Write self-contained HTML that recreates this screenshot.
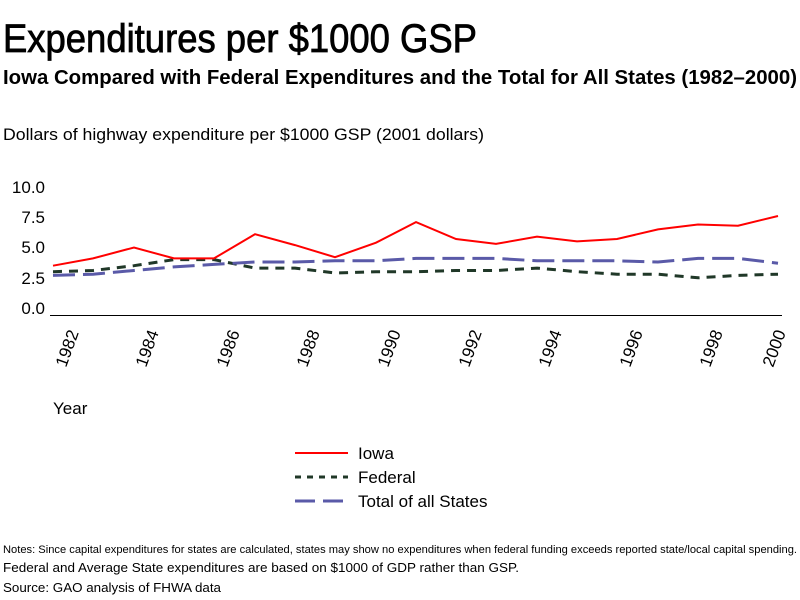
<!DOCTYPE html><html><head><style>body{margin:0;background:#fff}svg{display:block}text{font-family:"Liberation Sans",sans-serif}</style></head><body>
<svg width="800" height="600" xmlns="http://www.w3.org/2000/svg">
<text x="3" y="52" font-size="40" stroke="#000" stroke-width="0.8" textLength="474" lengthAdjust="spacingAndGlyphs">Expenditures per $1000 GSP</text>
<text x="3" y="84" font-size="20" font-weight="bold" textLength="794" lengthAdjust="spacingAndGlyphs">Iowa Compared with Federal Expenditures and the Total for All States (1982–2000)</text>
<text x="3" y="140" font-size="17" textLength="481" lengthAdjust="spacingAndGlyphs">Dollars of highway expenditure per $1000 GSP (2001 dollars)</text>
<g font-size="17" text-anchor="end">
<text x="45" y="193">10.0</text><text x="45" y="223">7.5</text><text x="45" y="253">5.0</text><text x="45" y="284">2.5</text><text x="45" y="314">0.0</text></g>
<line x1="50" y1="315.5" x2="782" y2="315.5" stroke="#000" stroke-width="1"/>
<polyline fill="none" stroke="#203828" stroke-width="3" stroke-dasharray="9,7" points="53,271.7 93,270.5 134,265.7 174,259.6 214,259.6 255,268.1 295,268.1 335,273 376,271.7 416,271.7 456,270.5 496,270.5 537,268.1 577,271.7 617,274.2 658,274.2 698,277.8 738,275.4 778,274.2"/>
<polyline fill="none" stroke="#5a5aa8" stroke-width="3" stroke-dasharray="22,8" points="53,275.4 93,274.2 134,270.5 174,266.9 214,264.4 255,262 295,262 335,260.8 376,260.8 416,258.4 456,258.4 496,258.4 537,260.8 577,260.8 617,260.8 658,262 698,258.4 738,258.4 778,263.2"/>
<polyline fill="none" stroke="#f00" stroke-width="2" points="53,265.7 93,258.4 134,247.5 174,258.4 214,258.4 255,234.2 295,245.1 335,257.2 376,242.7 416,222.1 456,239 496,243.9 537,236.6 577,241.4 617,239 658,229.4 698,224.5 738,225.7 778,216"/>
<g font-size="17">
<text transform="translate(66,368) rotate(-70)">1982</text>
<text transform="translate(146,368) rotate(-70)">1984</text>
<text transform="translate(227,368) rotate(-70)">1986</text>
<text transform="translate(307,368) rotate(-70)">1988</text>
<text transform="translate(388,368) rotate(-70)">1990</text>
<text transform="translate(469,368) rotate(-70)">1992</text>
<text transform="translate(549,368) rotate(-70)">1994</text>
<text transform="translate(630,368) rotate(-70)">1996</text>
<text transform="translate(710,368) rotate(-70)">1998</text>
<text transform="translate(773,368) rotate(-70)">2000</text>
<text x="53" y="414">Year</text>
<text x="358" y="459">Iowa</text><text x="358" y="483">Federal</text><text x="358" y="507">Total of all States</text>
</g>
<line x1="295" y1="453" x2="348" y2="453" stroke="#f00" stroke-width="2"/>
<line x1="295" y1="477" x2="348" y2="477" stroke="#203828" stroke-width="3" stroke-dasharray="6,6"/>
<line x1="295" y1="501" x2="348" y2="501" stroke="#5a5aa8" stroke-width="3" stroke-dasharray="20,8"/>
<text x="3" y="553" font-size="11" textLength="794" lengthAdjust="spacingAndGlyphs">Notes: Since capital expenditures for states are calculated, states may show no expenditures when federal funding exceeds reported state/local capital spending.</text>
<text x="3" y="572" font-size="13" textLength="516" lengthAdjust="spacingAndGlyphs">Federal and Average State expenditures are based on $1000 of GDP rather than GSP.</text>
<text x="3" y="592" font-size="13" textLength="218" lengthAdjust="spacingAndGlyphs">Source: GAO analysis of FHWA data</text>
</svg></body></html>
